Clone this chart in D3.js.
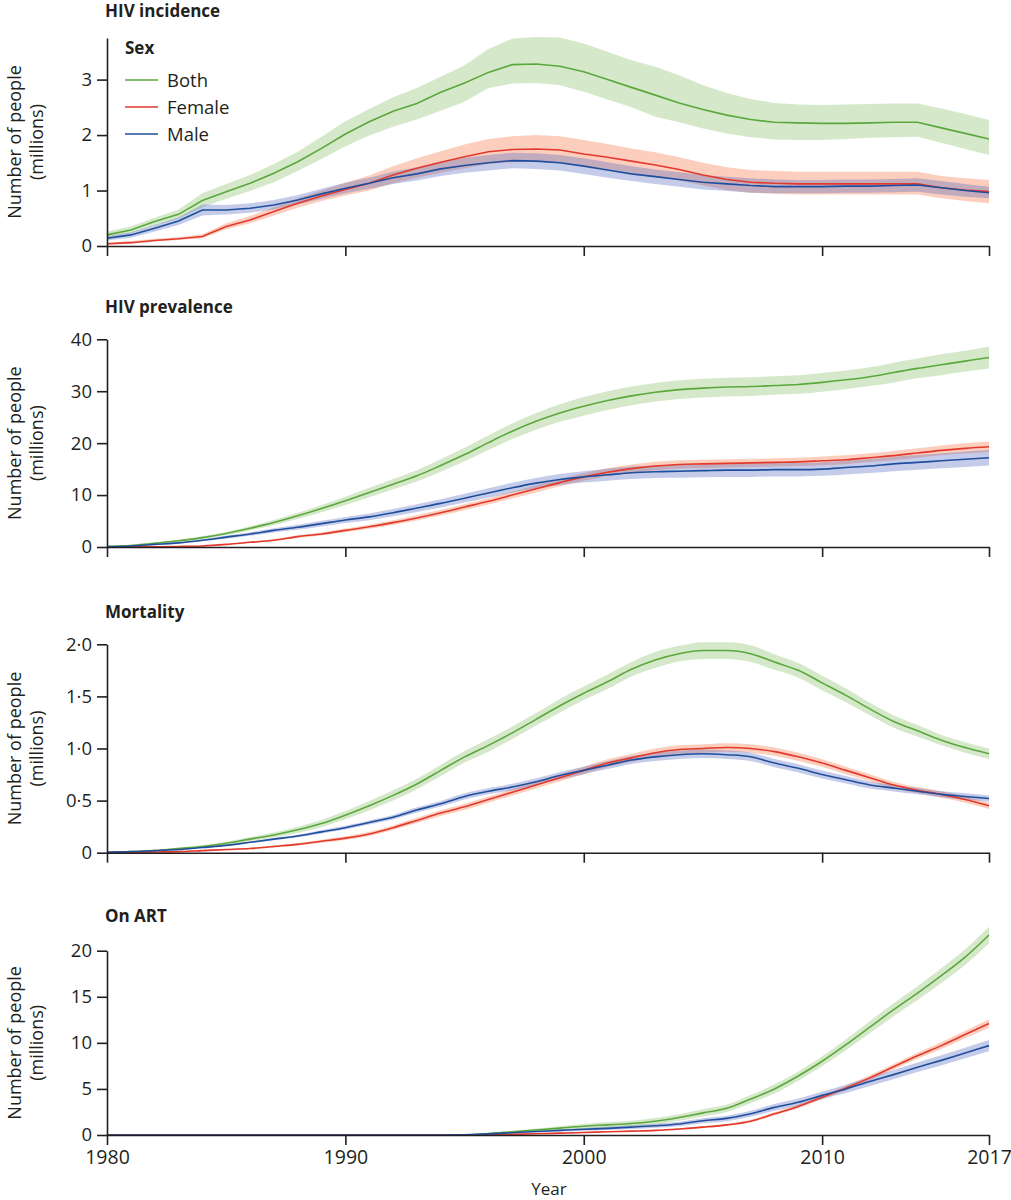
<!DOCTYPE html>
<html><head><meta charset="utf-8">
<script src="https://cdn.jsdelivr.net/npm/d3@7"></script>
<style>
html,body{margin:0;padding:0;background:#fff;}
svg text{font-family:"Open Sans","Noto Sans",sans-serif;fill:#231f20;}
</style></head>
<body><svg id="c" width="1011" height="1200"></svg>
<script>
// ---------------- DATA ----------------
const years = [1980,1981,1982,1983,1984,1985,1986,1987,1988,1989,1990,1991,1992,1993,1994,1995,1996,1997,1998,1999,2000,2001,2002,2003,2004,2005,2006,2007,2008,2009,2010,2011,2012,2013,2014,2015,2016,2017];
const xTickYears = [1980,1990,2000,2010,2017];
const seriesNames = ["Both","Female","Male"];
const panelTitles = ["HIV incidence","HIV prevalence","Mortality","On ART"];
const yTicksIncidence = [0,1,2,3];
const yTicksPrevalence = [0,10,20,30,40];
const yTicksMortality = [0,0.5,1.0,1.5,2.0];
const yTicksArt = [0,5,10,15,20];

// HIV incidence (millions) — mean, lower, upper
const incBoth   = [0.20,0.29,0.44,0.57,0.82,0.98,1.13,1.31,1.52,1.76,2.02,2.24,2.43,2.57,2.77,2.94,3.13,3.27,3.28,3.24,3.14,3.00,2.86,2.72,2.58,2.46,2.36,2.28,2.23,2.22,2.21,2.21,2.22,2.23,2.23,2.13,2.03,1.93];
const incBothLo = [0.15,0.23,0.37,0.49,0.70,0.85,0.99,1.15,1.35,1.57,1.80,1.99,2.15,2.28,2.44,2.60,2.85,2.93,2.94,2.90,2.78,2.64,2.50,2.33,2.23,2.12,2.03,1.96,1.92,1.91,1.91,1.93,1.95,1.96,1.97,1.86,1.75,1.64];
const incBothHi = [0.26,0.35,0.51,0.66,0.95,1.12,1.28,1.48,1.70,1.97,2.25,2.47,2.68,2.85,3.05,3.26,3.55,3.74,3.77,3.76,3.65,3.50,3.35,3.23,3.08,2.90,2.76,2.65,2.58,2.55,2.54,2.55,2.56,2.57,2.57,2.48,2.38,2.27];
const incFemale   = [0.04,0.06,0.10,0.13,0.17,0.35,0.47,0.62,0.77,0.90,1.02,1.13,1.28,1.40,1.51,1.61,1.70,1.74,1.75,1.73,1.66,1.60,1.53,1.46,1.38,1.28,1.20,1.15,1.13,1.12,1.12,1.12,1.12,1.12,1.12,1.05,1.01,0.98];
const incFemaleLo = [0.02,0.04,0.08,0.11,0.14,0.30,0.41,0.55,0.69,0.81,0.91,1.00,1.13,1.23,1.32,1.40,1.48,1.51,1.52,1.50,1.44,1.39,1.32,1.26,1.18,1.09,1.01,0.96,0.94,0.93,0.93,0.93,0.93,0.93,0.93,0.86,0.81,0.77];
const incFemaleHi = [0.06,0.09,0.13,0.16,0.21,0.41,0.54,0.70,0.86,1.00,1.14,1.27,1.44,1.58,1.71,1.83,1.93,1.98,2.00,1.98,1.91,1.84,1.76,1.69,1.60,1.50,1.42,1.37,1.35,1.34,1.34,1.34,1.34,1.34,1.34,1.26,1.22,1.19];
const incMale   = [0.14,0.20,0.32,0.45,0.65,0.65,0.68,0.74,0.83,0.94,1.04,1.13,1.23,1.30,1.39,1.45,1.50,1.54,1.53,1.50,1.44,1.37,1.30,1.25,1.20,1.15,1.12,1.09,1.07,1.07,1.07,1.08,1.08,1.09,1.10,1.05,1.00,0.96];
const incMaleLo = [0.10,0.15,0.26,0.38,0.55,0.57,0.60,0.66,0.75,0.85,0.95,1.03,1.12,1.18,1.26,1.32,1.36,1.40,1.39,1.36,1.30,1.23,1.17,1.12,1.07,1.02,0.99,0.96,0.95,0.95,0.95,0.96,0.96,0.97,0.98,0.93,0.89,0.86];
const incMaleHi = [0.18,0.25,0.38,0.52,0.75,0.74,0.77,0.83,0.92,1.03,1.14,1.23,1.34,1.42,1.52,1.59,1.64,1.68,1.67,1.64,1.58,1.51,1.44,1.38,1.33,1.28,1.25,1.22,1.20,1.19,1.19,1.20,1.20,1.21,1.22,1.17,1.12,1.07];

// HIV prevalence (millions) — mean and half-width of uncertainty
const prevBoth   = [0.1,0.3,0.7,1.2,1.8,2.6,3.6,4.7,6.0,7.4,8.9,10.5,12.1,13.7,15.7,17.8,20.1,22.3,24.2,25.8,27.1,28.2,29.1,29.8,30.3,30.6,30.8,30.9,31.1,31.3,31.7,32.2,32.8,33.6,34.4,35.1,35.8,36.5];
const prevBothHw = [0.05,0.1,0.15,0.2,0.25,0.3,0.4,0.5,0.6,0.7,0.8,0.9,1.0,1.1,1.2,1.3,1.4,1.5,1.6,1.7,1.8,1.8,1.8,1.8,1.8,1.8,1.8,1.8,1.8,1.8,1.8,1.8,1.8,1.9,1.9,2.0,2.0,2.1];
const prevFemale   = [0.0,0.02,0.05,0.1,0.2,0.5,0.9,1.3,2.0,2.5,3.2,3.9,4.7,5.6,6.6,7.7,8.8,10.0,11.2,12.4,13.5,14.4,15.1,15.6,15.9,16.0,16.1,16.2,16.3,16.4,16.6,16.8,17.2,17.6,18.1,18.6,19.0,19.3];
const prevFemaleHw = [0,0.01,0.02,0.04,0.06,0.1,0.15,0.2,0.25,0.3,0.35,0.4,0.45,0.5,0.55,0.6,0.6,0.65,0.7,0.7,0.75,0.75,0.8,0.8,0.8,0.8,0.8,0.8,0.8,0.8,0.85,0.85,0.85,0.9,0.9,0.95,1.0,1.0];
const prevMale   = [0.1,0.2,0.5,0.8,1.3,1.9,2.5,3.2,3.8,4.5,5.2,5.8,6.6,7.5,8.4,9.4,10.4,11.4,12.3,13.0,13.5,13.9,14.3,14.5,14.6,14.7,14.8,14.8,14.9,14.9,15.0,15.3,15.6,16.0,16.3,16.6,16.9,17.2];
const prevMaleHw = [0.03,0.05,0.1,0.15,0.2,0.3,0.35,0.4,0.5,0.55,0.6,0.65,0.7,0.75,0.8,0.85,0.9,0.95,1.0,1.05,1.1,1.15,1.2,1.2,1.25,1.25,1.3,1.3,1.3,1.3,1.3,1.35,1.35,1.4,1.4,1.45,1.5,1.5];

// Mortality (millions)
const mortBoth   = [0.005,0.01,0.02,0.04,0.06,0.09,0.13,0.17,0.22,0.28,0.36,0.45,0.55,0.66,0.79,0.92,1.03,1.15,1.28,1.41,1.53,1.64,1.76,1.85,1.91,1.94,1.94,1.91,1.83,1.75,1.63,1.51,1.38,1.26,1.17,1.08,1.01,0.95];
const mortBothHw = [0.002,0.004,0.006,0.01,0.012,0.015,0.02,0.025,0.03,0.035,0.04,0.045,0.05,0.05,0.055,0.055,0.06,0.06,0.06,0.065,0.065,0.07,0.07,0.075,0.075,0.08,0.08,0.08,0.075,0.07,0.07,0.065,0.06,0.06,0.055,0.05,0.05,0.05];
const mortFemale   = [0.002,0.004,0.007,0.01,0.02,0.03,0.04,0.06,0.08,0.11,0.14,0.18,0.24,0.31,0.38,0.44,0.51,0.58,0.65,0.72,0.79,0.86,0.91,0.96,0.99,1.00,1.01,1.00,0.97,0.92,0.86,0.79,0.72,0.65,0.60,0.56,0.51,0.45];
const mortFemaleHw = [0.001,0.002,0.003,0.004,0.005,0.006,0.008,0.01,0.012,0.015,0.018,0.02,0.022,0.025,0.027,0.03,0.03,0.032,0.034,0.035,0.036,0.037,0.038,0.04,0.04,0.04,0.04,0.04,0.04,0.04,0.038,0.036,0.034,0.032,0.03,0.03,0.03,0.03];
const mortMale   = [0.005,0.01,0.02,0.03,0.05,0.07,0.10,0.13,0.16,0.20,0.24,0.29,0.34,0.41,0.47,0.54,0.59,0.63,0.68,0.74,0.79,0.84,0.89,0.92,0.94,0.95,0.94,0.92,0.86,0.81,0.75,0.70,0.65,0.62,0.59,0.56,0.54,0.52];
const mortMaleHw = [0.001,0.002,0.003,0.004,0.005,0.006,0.008,0.01,0.012,0.015,0.018,0.02,0.022,0.025,0.027,0.03,0.03,0.032,0.034,0.035,0.036,0.037,0.038,0.04,0.04,0.04,0.04,0.04,0.04,0.04,0.038,0.036,0.034,0.032,0.03,0.03,0.03,0.03];

// On ART (millions)
const artBoth   = [0,0,0,0,0,0,0,0,0,0,0,0,0,0,0,0.02,0.15,0.35,0.55,0.75,0.95,1.1,1.25,1.5,1.9,2.4,2.9,3.9,5.0,6.4,8.0,9.8,11.7,13.6,15.4,17.3,19.3,21.7];
const artBothHw = [0,0,0,0,0,0,0,0,0,0,0,0,0,0,0,0.01,0.05,0.1,0.15,0.2,0.25,0.3,0.3,0.35,0.35,0.4,0.4,0.45,0.5,0.5,0.55,0.6,0.65,0.7,0.75,0.8,0.85,0.9];
const artFemale   = [0,0,0,0,0,0,0,0,0,0,0,0,0,0,0,0.01,0.03,0.08,0.13,0.2,0.27,0.35,0.42,0.5,0.65,0.85,1.1,1.5,2.3,3.1,4.1,5.1,6.2,7.4,8.6,9.7,10.9,12.1];
const artFemaleHw = [0,0,0,0,0,0,0,0,0,0,0,0,0,0,0,0.005,0.01,0.02,0.03,0.04,0.05,0.06,0.07,0.08,0.09,0.1,0.12,0.15,0.18,0.2,0.22,0.25,0.28,0.3,0.33,0.36,0.4,0.45];
const artMale   = [0,0,0,0,0,0,0,0,0,0,0,0,0,0,0,0.02,0.12,0.25,0.38,0.5,0.62,0.72,0.85,1.0,1.2,1.55,1.8,2.3,3.0,3.55,4.3,5.0,5.8,6.55,7.35,8.1,8.9,9.7];
const artMaleHw = [0,0,0,0,0,0,0,0,0,0,0,0,0,0,0,0.01,0.04,0.07,0.1,0.12,0.15,0.17,0.2,0.22,0.25,0.28,0.3,0.33,0.36,0.4,0.42,0.45,0.48,0.5,0.52,0.55,0.58,0.6];

// ---------------- BUILD ----------------
const lower = (m, hw) => m.map((v, i) => v - hw[i]);
const upper = (m, hw) => m.map((v, i) => v + hw[i]);

const panelsData = [
  [{mean: incBoth, lo: incBothLo, hi: incBothHi}, {mean: incFemale, lo: incFemaleLo, hi: incFemaleHi}, {mean: incMale, lo: incMaleLo, hi: incMaleHi}],
  [{mean: prevBoth, lo: lower(prevBoth, prevBothHw), hi: upper(prevBoth, prevBothHw)},
   {mean: prevFemale, lo: lower(prevFemale, prevFemaleHw), hi: upper(prevFemale, prevFemaleHw)},
   {mean: prevMale, lo: lower(prevMale, prevMaleHw), hi: upper(prevMale, prevMaleHw)}],
  [{mean: mortBoth, lo: lower(mortBoth, mortBothHw), hi: upper(mortBoth, mortBothHw)},
   {mean: mortFemale, lo: lower(mortFemale, mortFemaleHw), hi: upper(mortFemale, mortFemaleHw)},
   {mean: mortMale, lo: lower(mortMale, mortMaleHw), hi: upper(mortMale, mortMaleHw)}],
  [{mean: artBoth, lo: lower(artBoth, artBothHw), hi: upper(artBoth, artBothHw)},
   {mean: artFemale, lo: lower(artFemale, artFemaleHw), hi: upper(artFemale, artFemaleHw)},
   {mean: artMale, lo: lower(artMale, artMaleHw), hi: upper(artMale, artMaleHw)}]
];
const yTicksList = [yTicksIncidence, yTicksPrevalence, yTicksMortality, yTicksArt];

// layout
const layout = [
  {y0: 246,   yTop: 38,    dmax: 3.75, titleY: 17,  linear: true},
  {y0: 547,   yTop: 339.3, dmax: 40,   titleY: 313, linear: false},
  {y0: 852.7, yTop: 644.3, dmax: 2.0,  titleY: 618, linear: false},
  {y0: 1135,  yTop: 950.7, dmax: 20,   titleY: 922, linear: false}
];
const lineColors = ["#5aa83c", "#e2392c", "#1f4f9c"];
const bandColors = ["rgba(120,180,80,0.30)", "rgba(246,125,85,0.38)", "rgba(80,100,190,0.33)"];

const svg = d3.select("#c");
const x = d3.scaleLinear().domain([1980, 2017]).range([107, 989]);
const axisColor = "#231f20";

layout.forEach((L, pi) => {
  const y = d3.scaleLinear().domain([0, L.dmax]).range([L.y0, L.yTop]);
  const g = svg.append("g");
  const curve = L.linear ? d3.curveLinear : d3.curveMonotoneX;
  const data = panelsData[pi];

  data.forEach((s, si) => {
    const area = d3.area().curve(curve)
      .x((d, i) => x(years[i]))
      .y0((d, i) => y(s.lo[i]))
      .y1((d, i) => y(s.hi[i]));
    g.append("path").datum(s.mean).attr("d", area).attr("fill", bandColors[si]).attr("stroke", "none");
  });
  data.forEach((s, si) => {
    const line = d3.line().curve(curve)
      .x((d, i) => x(years[i]))
      .y(d => y(d));
    g.append("path").datum(s.mean).attr("d", line).attr("fill", "none")
      .attr("stroke", lineColors[si]).attr("stroke-width", 1.6);
  });

  const fmt = pi === 2 ? (d => d === 0 ? "0" : d3.format(".1f")(d).replace(".", "\u00B7")) : d3.format("d");
  const yAx = g.append("g").attr("transform", "translate(107,0)")
    .call(d3.axisLeft(y).tickValues(yTicksList[pi]).tickFormat(fmt).tickSize(10).tickSizeOuter(0).tickPadding(5));
  const xAx = g.append("g").attr("transform", `translate(0,${L.y0})`)
    .call(d3.axisBottom(x).tickValues(xTickYears).tickFormat(pi === 3 ? d3.format("d") : "").tickSize(10).tickSizeOuter(0).tickPadding(5));
  [yAx, xAx].forEach(a => {
    a.selectAll("path,line").attr("stroke", axisColor).attr("stroke-width", 1.6);
    a.selectAll("text").attr("fill", axisColor).style("font-family", '"Open Sans","Noto Sans",sans-serif');
  });
  yAx.selectAll("text").style("font-size", "18.5px");
  xAx.selectAll("text").style("font-size", "19.5px");

  svg.append("text").attr("x", 105).attr("y", L.titleY)
    .style("font-size", "17px").style("font-weight", "700").text(panelTitles[pi]);

  const cy = (L.y0 + L.yTop) / 2;
  svg.append("text").attr("transform", `translate(21,${cy}) rotate(-90)`)
    .attr("text-anchor", "middle").style("font-size", "18px").text("Number of people");
  svg.append("text").attr("transform", `translate(43,${cy}) rotate(-90)`)
    .attr("text-anchor", "middle").style("font-size", "18px").text("(millions)");
});

svg.append("text").attr("x", 549).attr("y", 1195).attr("text-anchor", "middle")
  .style("font-size", "17px").text("Year");

const lg = svg.append("g");
lg.append("text").attr("x", 125).attr("y", 54).style("font-size", "17px").style("font-weight", "700").text("Sex");
seriesNames.forEach((n, i) => {
  const yy = 80 + i * 27;
  lg.append("line").attr("x1", 125).attr("x2", 158).attr("y1", yy).attr("y2", yy)
    .attr("stroke", lineColors[i]).attr("stroke-width", 1.6);
  lg.append("text").attr("x", 167).attr("y", yy + 6.5).style("font-size", "18.5px").text(n);
});
</script></body></html>
